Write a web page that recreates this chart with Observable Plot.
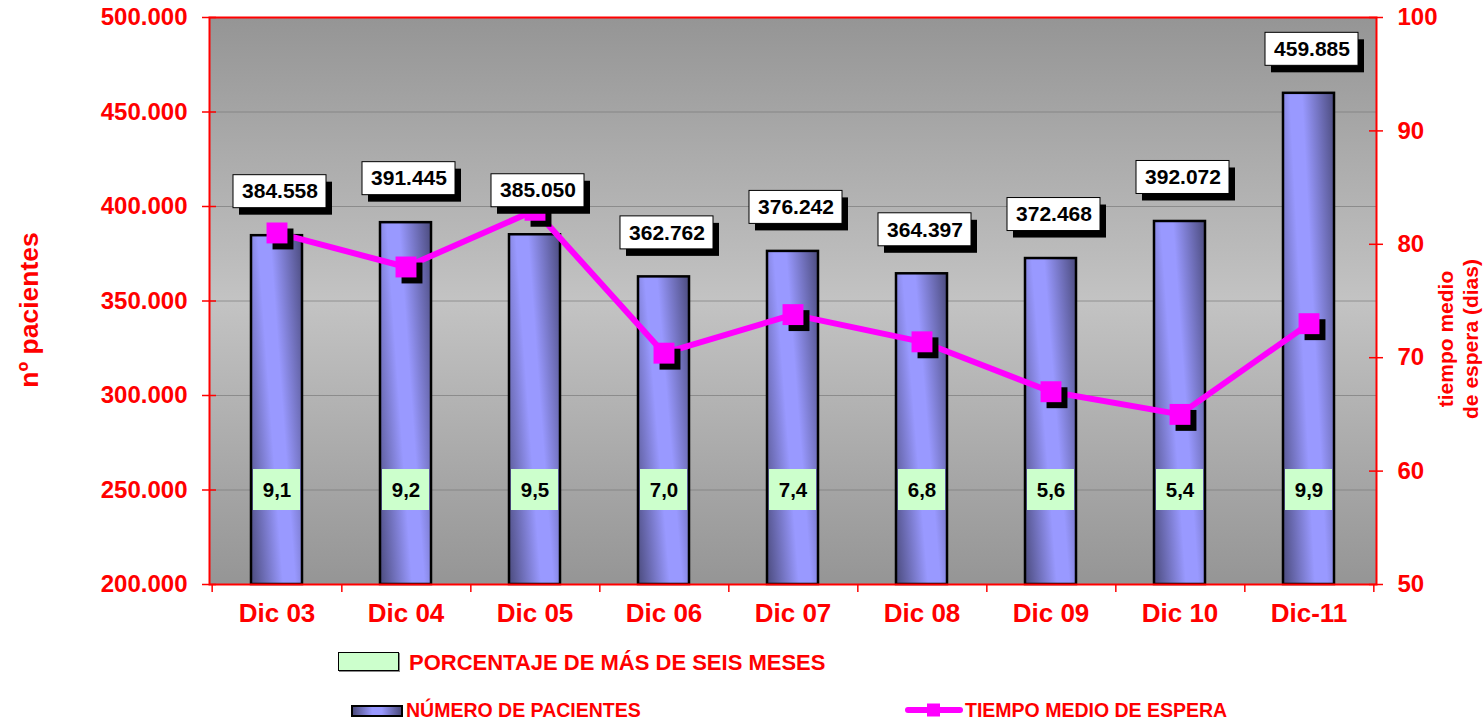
<!DOCTYPE html>
<html><head><meta charset="utf-8">
<script src="https://cdn.jsdelivr.net/npm/d3@7"></script>
<script src="https://cdn.jsdelivr.net/npm/@observablehq/plot@0.6"></script>
<style>
body{margin:0;background:#fff;font-family:"Liberation Sans",Arial,sans-serif;}
#wrap{position:relative;width:1483px;height:721px;overflow:hidden;}
#wrap svg{display:block;}
.leg{position:absolute;color:red;font-weight:bold;font-size:19.5px;line-height:20px;white-space:nowrap;}
.sw{position:absolute;box-sizing:border-box;}
</style></head><body><div id="wrap"></div>
<script>
const categories = ["Dic 03","Dic 04","Dic 05","Dic 06","Dic 07","Dic 08","Dic 09","Dic 10","Dic-11"];
const pacientes = [384558,391445,385050,362762,376242,364397,372468,392072,459885];
const tiempoMedio = [81.0,78.0,83.0,70.4,73.8,71.4,67.0,65.0,73.0];
const porcentaje = [9.1,9.2,9.5,7.0,7.4,6.8,5.6,5.4,9.9];
const leftTicks = [200000,250000,300000,350000,400000,450000,500000];
const rightTicks = [50,60,70,80,90,100];
const seriesNames = ["PORCENTAJE DE MÁS DE SEIS MESES","NÚMERO DE PACIENTES","TIEMPO MEDIO DE ESPERA"];
const yTitleLeft = "nº pacientes";
const yTitleRight = "tiempo medio\nde espera (dias)";

const data = categories.map((c,i)=>({cat:c, pac:pacientes[i], t:tiempoMedio[i], pct:porcentaje[i]}));
const L0=leftTicks[0], L1=leftTicks[leftTicks.length-1], R0=rightTicks[0], R1=rightTicks[rightTicks.length-1];
const toLeft = v => L0 + (v-R0)*(L1-L0)/(R1-R0);
const fromLeft = v => R0 + (v-L0)*(R1-R0)/(L1-L0);
const fmtThousands = v => d3.format(",")(v).replace(/,/g,".");
const fmtPct = v => v.toFixed(1).replace(".",",");

const W=1483, H=640, mL=209, mR=107, mT=17, mB=56;
const plotW=W-mL-mR, plotH=H-mT-mB;
const bw = plotW/categories.length;
const font='"Liberation Sans", Arial, sans-serif';
const MAG="#ff00ff";
const pctY = 250000;

const chart = Plot.plot({
  width:W, height:H, marginLeft:mL, marginRight:mR, marginTop:mT, marginBottom:mB,
  style:{fontFamily:font, fontWeight:"bold", color:"red", background:"transparent", overflow:"visible"},
  x:{type:"band", domain:categories, padding:0, label:null},
  y:{domain:[L0,L1], label:null},
  marks:[
    Plot.frame({fill:"url(#bgGrad)", stroke:"none"}),
    Plot.ruleY(leftTicks.slice(1,-1), {stroke:"#7a7a7a", strokeOpacity:0.7, strokeWidth:1}),
    Plot.barY(data,{x:"cat", y1:L0, y2:"pac", insetLeft:39, insetRight:39, fill:"url(#barGrad)", stroke:"black", strokeWidth:2.5}),
    Plot.line(data,{x:"cat", y:d=>toLeft(d.t), stroke:MAG, strokeWidth:6}),
    Plot.dot(data,{x:"cat", y:d=>toLeft(d.t), symbol:"square", r:11.8, fill:"black", stroke:"none", dx:6, dy:6}),
    Plot.dot(data,{x:"cat", y:d=>toLeft(d.t), symbol:"square", r:11.8, fill:MAG, stroke:"none"}),
    Plot.barY(data,{x:"cat", y1:"pac", y2:"pac", insetLeft:18, insetRight:18, insetTop:-16.5, insetBottom:-16.5, dx:9, dy:-37, fill:"black"}),
    Plot.barY(data,{x:"cat", y1:"pac", y2:"pac", insetLeft:18, insetRight:18, insetTop:-16.5, insetBottom:-16.5, dx:3, dy:-44, fill:"white", stroke:"black", strokeWidth:1}),
    Plot.text(data,{x:"cat", y:"pac", text:d=>fmtThousands(d.pac), dx:3, dy:-44, fontSize:21, fill:"black", fontWeight:"bold"}),
    Plot.barY(data,{x:"cat", y1:pctY, y2:pctY, insetLeft:41, insetRight:41, insetTop:-20.5, insetBottom:-20.5, fill:"#ccffcc"}),
    Plot.text(data,{x:"cat", y:pctY, text:d=>fmtPct(d.pct), fontSize:20.5, fill:"black", fontWeight:"bold"}),
    Plot.frame({stroke:"red", strokeWidth:2}),
    Plot.ruleY(leftTicks, {stroke:"red", strokeWidth:1.5, insetLeft:-7, insetRight:plotW-7}),
    Plot.ruleY(rightTicks.map(toLeft), {stroke:"red", strokeWidth:1.5, insetLeft:plotW-7, insetRight:-7}),
    Plot.ruleX(categories, {x:d=>d, dx:bw/2, stroke:"red", strokeWidth:1.5, insetTop:plotH, insetBottom:-8}),
    Plot.ruleX(categories.slice(0,1), {x:d=>d, dx:-bw/2, stroke:"red", strokeWidth:1.5, insetTop:plotH, insetBottom:-8}),
    Plot.axisY(leftTicks, {anchor:"left", tickSize:0, tickPadding:22, tickFormat:fmtThousands, fontSize:24, fill:"red", label:null}),
    Plot.axisY(rightTicks.map(toLeft), {anchor:"right", tickSize:0, tickPadding:21, tickFormat:d=>String(Math.round(fromLeft(d))), fontSize:24, fill:"red", label:null}),
    Plot.axisX({anchor:"bottom", tickSize:0, tickPadding:19, fontSize:26, fill:"red", label:null}),
    Plot.text([yTitleLeft], {frameAnchor:"left", text:d=>d, rotate:-90, dx:-180, dy:9, fontSize:26.5, fill:"red", textAnchor:"middle", lineAnchor:"middle"}),
    Plot.text([yTitleRight], {frameAnchor:"right", text:d=>d, rotate:-90, dx:81, dy:38, fontSize:21, fill:"red", textAnchor:"middle", lineAnchor:"middle", lineHeight:1.2})
  ]
});

const defs = d3.select(chart).insert("defs", ":first-child");
const bg = defs.append("linearGradient").attr("id","bgGrad").attr("x1",0).attr("y1",0).attr("x2",0).attr("y2",1);
[[0,"#959595"],[0.5,"#c3c3c3"],[1,"#959595"]].forEach(([o,c])=>bg.append("stop").attr("offset",o).attr("stop-color",c));
const bgr = defs.append("linearGradient").attr("id","barGrad").attr("x1",0).attr("y1",1).attr("x2",1.2).attr("y2",0.4);
[[0,"#4b4b7d"],[0.42,"#9999ff"],[0.58,"#9999ff"],[1,"#4b4b7d"]].forEach(([o,c])=>bgr.append("stop").attr("offset",o).attr("stop-color",c));

const wrap = document.getElementById("wrap");
wrap.appendChild(chart);

function addDiv(cls, style, html){ const d=document.createElement("div"); d.className=cls; d.setAttribute("style",style); if(html!==undefined) d.textContent=html; wrap.appendChild(d); return d; }
addDiv("sw","left:338px;top:652px;width:61px;height:19px;background:#ccffcc;border:1.5px solid #000;box-shadow:1px 1px 0 #888;");
addDiv("leg","left:409px;top:652px;font-size:22px;line-height:22px;", seriesNames[0]);
addDiv("sw","left:351px;top:705px;width:52px;height:12px;background:linear-gradient(to right,#4b4b7d,#9999ff 40%,#9999ff 60%,#4b4b7d);border:2px solid #000;");
addDiv("leg","left:406px;top:700px;", seriesNames[1]);
const ls = addDiv("sw","left:902px;top:700px;width:64px;height:20px;");
ls.innerHTML = `<svg width="64" height="20"><line x1="6" y1="10" x2="58" y2="10" stroke="${MAG}" stroke-width="6" stroke-linecap="round"/><rect x="25" y="3.5" width="13" height="13" fill="${MAG}"/></svg>`;
addDiv("leg","left:965px;top:700px;", seriesNames[2]);
</script></body></html>
